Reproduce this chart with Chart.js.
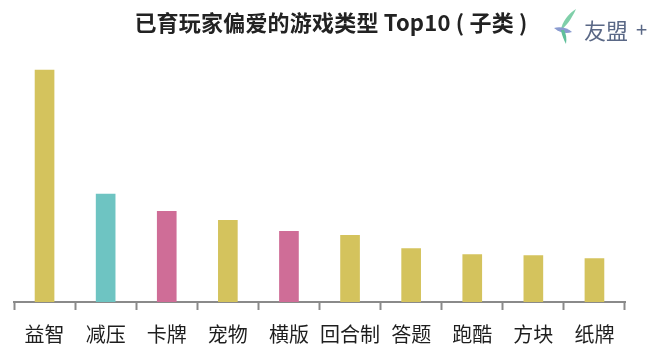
<!DOCTYPE html>
<html>
<head>
<meta charset="utf-8">
<script src="https://cdn.jsdelivr.net/npm/chart.js@4"></script>
<style>
  html, body { margin: 0; padding: 0; background: #fff; }
  #wrap { position: relative; width: 656px; height: 360px; }
  #title {
    position: absolute; left: 0; top: 5px; width: 662px; text-align: center;
    font-family: "Noto Sans CJK SC", sans-serif; font-weight: bold; font-size: 22px; color: #222;
    letter-spacing: 0.2px;
  }
  #logo {
    position: absolute; left: 552px; top: 8px; height: 36px;
    font-family: "Noto Sans CJK SC", sans-serif; color: #5a6886;
  }
  #logo svg { position: absolute; left: 0; top: 0; }
  #logo .name { position: absolute; left: 32px; top: 5px; font-size: 22px; white-space: nowrap; }
  #logo .plus { position: absolute; left: 84px; top: 6px; font-size: 20px; }
</style>
</head>
<body>
<div id="wrap">
  <canvas id="chart" width="656" height="360"></canvas>
  <div id="title">已育玩家偏爱的游戏类型 Top10 ( 子类 )</div>
  <div id="logo">
    <svg width="30" height="36" viewBox="0 0 30 36">
      <path d="M24 1 C16 6 10 14 9 22 C14 18 19 12 24 1 Z" fill="#7fcfa9"/>
      <path d="M2 20 C8 18 16 20 20 24 C14 26 8 25 2 20 Z" fill="#8a9bd0"/>
      <path d="M9 22 C10 28 12 32 14 36 C15 30 14 26 12 22 Z" fill="#5fbf9a"/>
    </svg>
    <span class="name">友盟</span><span class="plus">+</span>
  </div>
</div>
<script>
document.addEventListener('DOMContentLoaded', function () {
    // 游戏子类
    const categories = ['益智', '减压', '卡牌', '宠物', '横版', '回合制', '答题', '跑酷', '方块', '纸牌'];
    // 相对偏好值（从图上估计）
    const values = [230, 107, 90, 81, 70, 66, 53, 47, 46, 43];

    const yellow = '#d4c35d';
    const teal = '#6ec4c2';
    const pink = '#cf6d97';
    const barColors = [yellow, teal, pink, yellow, pink, yellow, yellow, yellow, yellow, yellow];

    const ctx = document.getElementById('chart').getContext('2d');
    new Chart(ctx, {
        type: 'bar',
        data: {
            labels: categories,
            datasets: [{
                data: values,
                backgroundColor: barColors,
                borderWidth: 0,
                barThickness: 19
            }]
        },
        options: {
            responsive: false,
            animation: false,
            layout: { padding: { top: 60, left: 14, right: 31, bottom: 2 } },
            plugins: {
                legend: { display: false },
                tooltip: { enabled: false }
            },
            scales: {
                x: {
                    offset: true,
                    grid: {
                        offset: true,
                        drawOnChartArea: false,
                        drawTicks: true,
                        tickLength: 8,
                        tickWidth: 2,
                        tickColor: '#8a8a8a'
                    },
                    border: { display: true, color: '#8a8a8a', width: 2 },
                    ticks: {
                        padding: 12,
                        maxRotation: 0,
                        minRotation: 0,
                        autoSkip: false,
                        color: '#1e1e1e',
                        font: { family: '"Noto Sans CJK SC", sans-serif', size: 20 }
                    }
                },
                y: {
                    display: false,
                    min: 0,
                    max: 240
                }
            }
        }
    });
});
</script>
</body>
</html>
